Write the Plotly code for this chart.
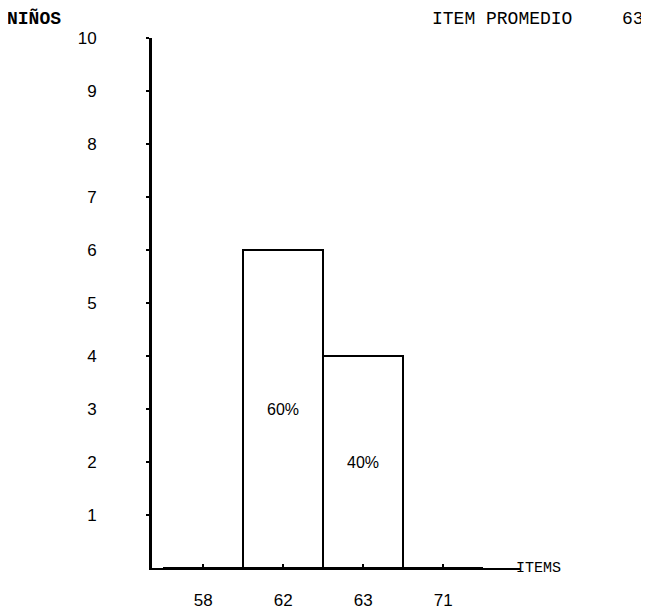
import plotly.graph_objects as go

categories = ["58", "62", "63", "71"]
ninos = [0, 6, 4, 0]
porcentajes = ["", "60%", "40%", ""]
y_ticks = [1, 2, 3, 4, 5, 6, 7, 8, 9, 10]
y_label = "NIÑOS"
x_label = "ITEMS"
promedio_label = "ITEM PROMEDIO"
promedio_value = "63"

fig = go.Figure()
fig.add_trace(go.Bar(
    x=categories, y=ninos,
    text=porcentajes, textposition="inside", insidetextanchor="middle",
    textfont=dict(family="Liberation Sans", size=16, color="black"),
    marker=dict(color="white", line=dict(color="black", width=2)),
    width=1.0, cliponaxis=False,
))

fig.update_layout(
    width=641, height=603,
    margin=dict(l=144, r=129, t=30, b=43, autoexpand=False),
    paper_bgcolor="white", plot_bgcolor="white",
    showlegend=False, bargap=0,
    font=dict(family="Liberation Sans", color="black"),
    xaxis=dict(
        type="category", range=[-0.64, 3.96], automargin=False,
        showline=True, linecolor="black", linewidth=2,
        showgrid=False, zeroline=False,
        ticks="inside", ticklen=4, tickcolor="black", tickwidth=2,
        ticklabelstandoff=16,
        tickfont=dict(family="Liberation Sans", size=17, color="black"),
    ),
    yaxis=dict(
        range=[0, 10], automargin=False,
        showline=True, linecolor="black", linewidth=3,
        showgrid=False, zeroline=False,
        tickvals=y_ticks, ticktext=[str(v) for v in y_ticks],
        ticks="outside", ticklen=3, tickcolor="black", tickwidth=2,
        ticklabelstandoff=46,
        tickfont=dict(family="Liberation Sans", size=17, color="black"),
    ),
)

mono = dict(family="Liberation Mono", size=18, color="black")
top_y = (560 - 11) / 530
fig.add_annotation(text="<b>" + y_label + "</b>", xref="paper", yref="paper",
                   x=-0.40, y=top_y, xanchor="left", yanchor="middle",
                   showarrow=False, font=mono)
fig.add_annotation(text=promedio_label, xref="paper", yref="paper",
                   x=(430 - 152) / 368, y=top_y, xanchor="left", yanchor="middle",
                   showarrow=False, font=mono)
fig.add_annotation(text=promedio_value, xref="paper", yref="paper",
                   x=(646 - 152) / 368, y=top_y, xanchor="right", yanchor="middle",
                   showarrow=False, font=mono)
fig.add_annotation(text=x_label, xref="paper", yref="paper",
                   x=(514 - 152) / 368, y=0, xanchor="left", yanchor="middle",
                   showarrow=False, font=dict(family="Liberation Mono", size=15, color="black"))

fig.write_html("out.html")
